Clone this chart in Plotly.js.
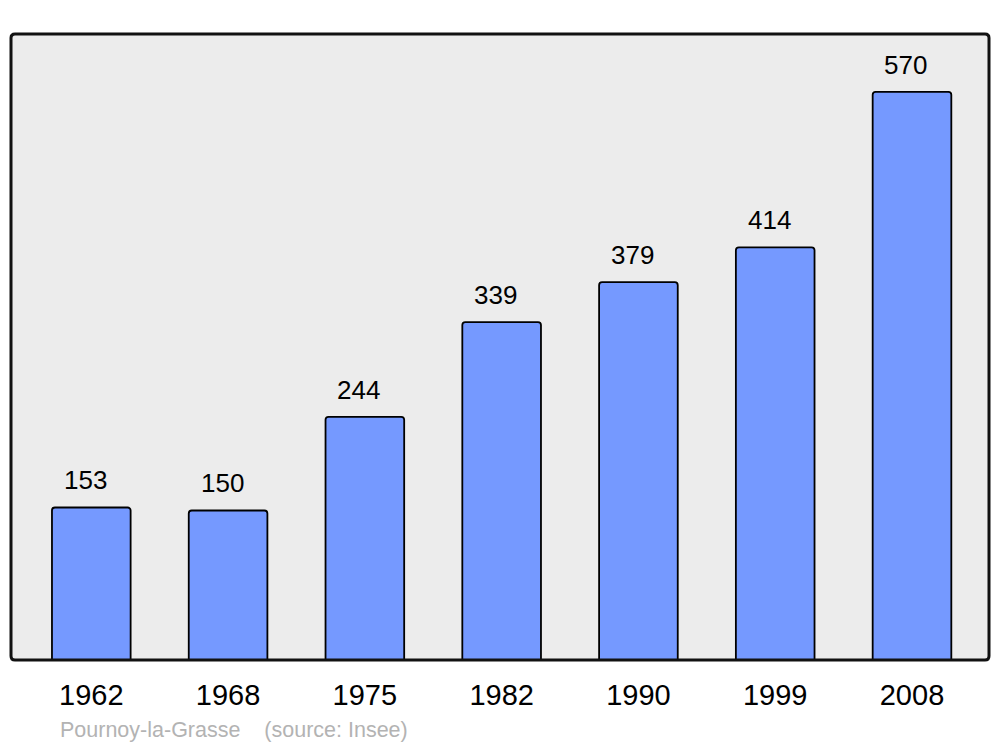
<!DOCTYPE html>
<html>
<head>
<meta charset="utf-8">
<script src="https://cdn.plot.ly/plotly-3.0.1.min.js"></script>
<style>html,body{margin:0;padding:0;background:#fff;}#chart{width:1000px;height:747px;}</style>
</head>
<body>
<div id="chart"></div>
<script>
var years = ["1962", "1968", "1975", "1982", "1990", "1999", "2008"];
var population = [153, 150, 244, 339, 379, 414, 570];
var sourceText = "Pournoy-la-Grasse    (source: Insee)";

var rx = 4 / 978, ry = 4 / 626;
var framePath = "M " + rx + " 0 L " + (1 - rx) + " 0 Q 1 0 1 " + ry +
  " L 1 " + (1 - ry) + " Q 1 1 " + (1 - rx) + " 1 L " + rx + " 1 Q 0 1 0 " + (1 - ry) +
  " L 0 " + ry + " Q 0 0 " + rx + " 0 Z";

var annotations = years.map(function (y, i) {
  return {
    x: i, y: population[i], xref: "x", yref: "y",
    text: String(population[i]), showarrow: false,
    yanchor: "bottom", xanchor: "center", xshift: -6, yshift: 10,
    font: {family: "Liberation Sans, Arial, sans-serif", size: 26, color: "#000"}
  };
});
annotations.push({
  x: 0.0485, y: -0.112, xref: "paper", yref: "paper",
  xanchor: "left", yanchor: "middle", showarrow: false,
  text: sourceText.replace(/ /g, "&nbsp;"),
  font: {family: "Liberation Sans, Arial, sans-serif", size: 21.5, color: "#b3b3b3"}
});

var data = [{
  type: "bar", x: years, y: population,
  width: 0.575,
  marker: {color: "#7599ff", line: {color: "#000", width: 1.8}, cornerradius: 3},
  hoverinfo: "none"
}];

var layout = {
  width: 1000, height: 747,
  margin: {l: 11, r: 11, t: 34, b: 87, pad: 0},
  paper_bgcolor: "#ffffff", plot_bgcolor: "#ececec",
  showlegend: false,
  xaxis: {
    type: "category", range: [-0.587, 6.563],
    showgrid: false, zeroline: false, showline: false,
    ticks: "outside", ticklen: 9, tickcolor: "rgba(0,0,0,0)",
    tickfont: {family: "Liberation Sans, Arial, sans-serif", size: 29, color: "#000"}
  },
  yaxis: {
    range: [0, 628], showgrid: false, zeroline: false, showline: false,
    showticklabels: false, ticks: ""
  },
  shapes: [{
    type: "path", xref: "paper", yref: "paper", path: framePath,
    line: {color: "#111", width: 3}, fillcolor: "rgba(0,0,0,0)", layer: "above"
  }],
  annotations: annotations
};

Plotly.newPlot("chart", data, layout, {displayModeBar: false, staticPlot: true});
</script>
</body>
</html>
